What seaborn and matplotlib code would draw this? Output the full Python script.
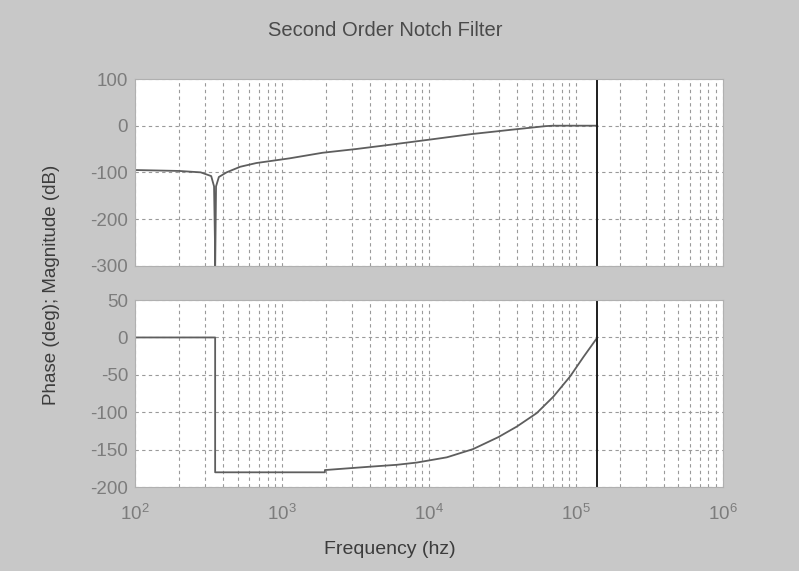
import numpy as np
import pandas as pd
import matplotlib
matplotlib.use("Agg")
import matplotlib.pyplot as plt
import seaborn as sns
from matplotlib.ticker import LogLocator, LogFormatterMathtext, FixedLocator, NullFormatter

# ---------------- data ----------------
title = "Second Order Notch Filter"
x_label = "Frequency (hz)"
y_label = "Phase (deg); Magnitude (dB)"

mag_freq = [100, 200, 280, 330, 345, 350, 350.5, 356, 372, 420, 520, 670,
            1125, 1890, 3200, 5400, 10600, 19500, 35700, 62000, 70000, 140300]
mag_db = [-95, -97, -100, -108, -130, -250, -330, -130, -110, -100, -88, -80,
          -70, -58, -50, -41, -29, -18, -9, -1, 0, 0]

phase_freq = [100, 351, 351, 1960, 1960, 3980, 6040, 8270, 13250, 20000,
              29730, 39650, 54200, 70400, 91500, 112800, 140300]
phase_deg = [0, 0, -180, -180, -177, -172.5, -170, -167, -160, -149,
             -133, -119, -101, -79, -52, -26, 0]

nyquist_hz = 1.403e5
mag_yticks = [-300, -200, -100, 0, 100]
phase_yticks = [-200, -150, -100, -50, 0, 50]
x_limits = (1e2, 1e6)

# ---------------- style ----------------
sns.set_theme(style="white")
plt.rcParams['font.family'] = ['Liberation Sans', 'DejaVu Sans']
plt.rcParams['mathtext.fontset'] = 'custom'
plt.rcParams['mathtext.rm'] = 'Liberation Sans'
plt.rcParams['mathtext.it'] = 'Liberation Sans'
plt.rcParams['axes.unicode_minus'] = False

bg = '#c8c8c8'
curve_col = '#5e5e5e'
grid_col = '#9a9a9a'
tick_col = '#7c7c7c'

fig = plt.figure(figsize=(7.99, 5.71), dpi=100, facecolor=bg)
ax1 = fig.add_axes([0.169, 0.5347, 0.7355, 0.3269])
ax2 = fig.add_axes([0.169, 0.1466, 0.7355, 0.328])

mag_df = pd.DataFrame({"f": mag_freq, "db": mag_db})
ph_df = pd.DataFrame({"f": phase_freq, "deg": phase_deg})

for ax in (ax1, ax2):
    ax.set_facecolor('white')
    ax.set_xscale('log')

sns.lineplot(data=mag_df, x="f", y="db", ax=ax1, color=curve_col, lw=1.3,
             estimator=None, sort=False)
sns.lineplot(data=ph_df, x="f", y="deg", ax=ax2, color=curve_col, lw=1.3,
             estimator=None, sort=False)

for ax, yt in ((ax1, mag_yticks), (ax2, phase_yticks)):
    ax.set_xlim(*x_limits)
    ax.set_ylim(yt[0], yt[-1])
    ax.yaxis.set_major_locator(FixedLocator(yt))
    ax.xaxis.set_major_locator(LogLocator(base=10, numticks=10))
    ax.xaxis.set_minor_locator(LogLocator(base=10, subs=range(2, 10), numticks=50))
    ax.xaxis.set_minor_formatter(NullFormatter())
    ax.grid(which='major', axis='both', ls=(0, (3, 3)), color=grid_col, lw=0.8)
    ax.grid(which='minor', axis='x', ls=(0, (3, 3)), color=grid_col, lw=0.8)
    ax.axvline(nyquist_hz, color='#1e1e1e', lw=1.4)
    ax.set_xlabel("")
    ax.set_ylabel("")
    ax.tick_params(axis='y', which='both', direction='in', length=0,
                   labelsize=13.5, colors=tick_col, pad=5)
    ax.tick_params(axis='x', which='both', direction='in', length=0,
                   labelsize=13.5, colors=tick_col, pad=12)
    for s in ax.spines.values():
        s.set_color('#b0b0b0')
        s.set_linewidth(0.8)

ax1.xaxis.set_major_formatter(NullFormatter())
ax2.xaxis.set_major_formatter(LogFormatterMathtext())

fig.text(385 / 799, 1 - 31 / 571, title, ha='center', va='center',
         fontsize=14.5, color='#4a4a4a')
fig.text(390 / 799, 1 - 549 / 571, x_label, ha='center', va='center',
         fontsize=14, color='#3c3c3c')
fig.text(52 / 799, 1 - 285 / 571, y_label, ha='center', va='center',
         rotation=90, fontsize=13.5, color='#3c3c3c')

fig.savefig("out.png", dpi=100, facecolor=bg)
